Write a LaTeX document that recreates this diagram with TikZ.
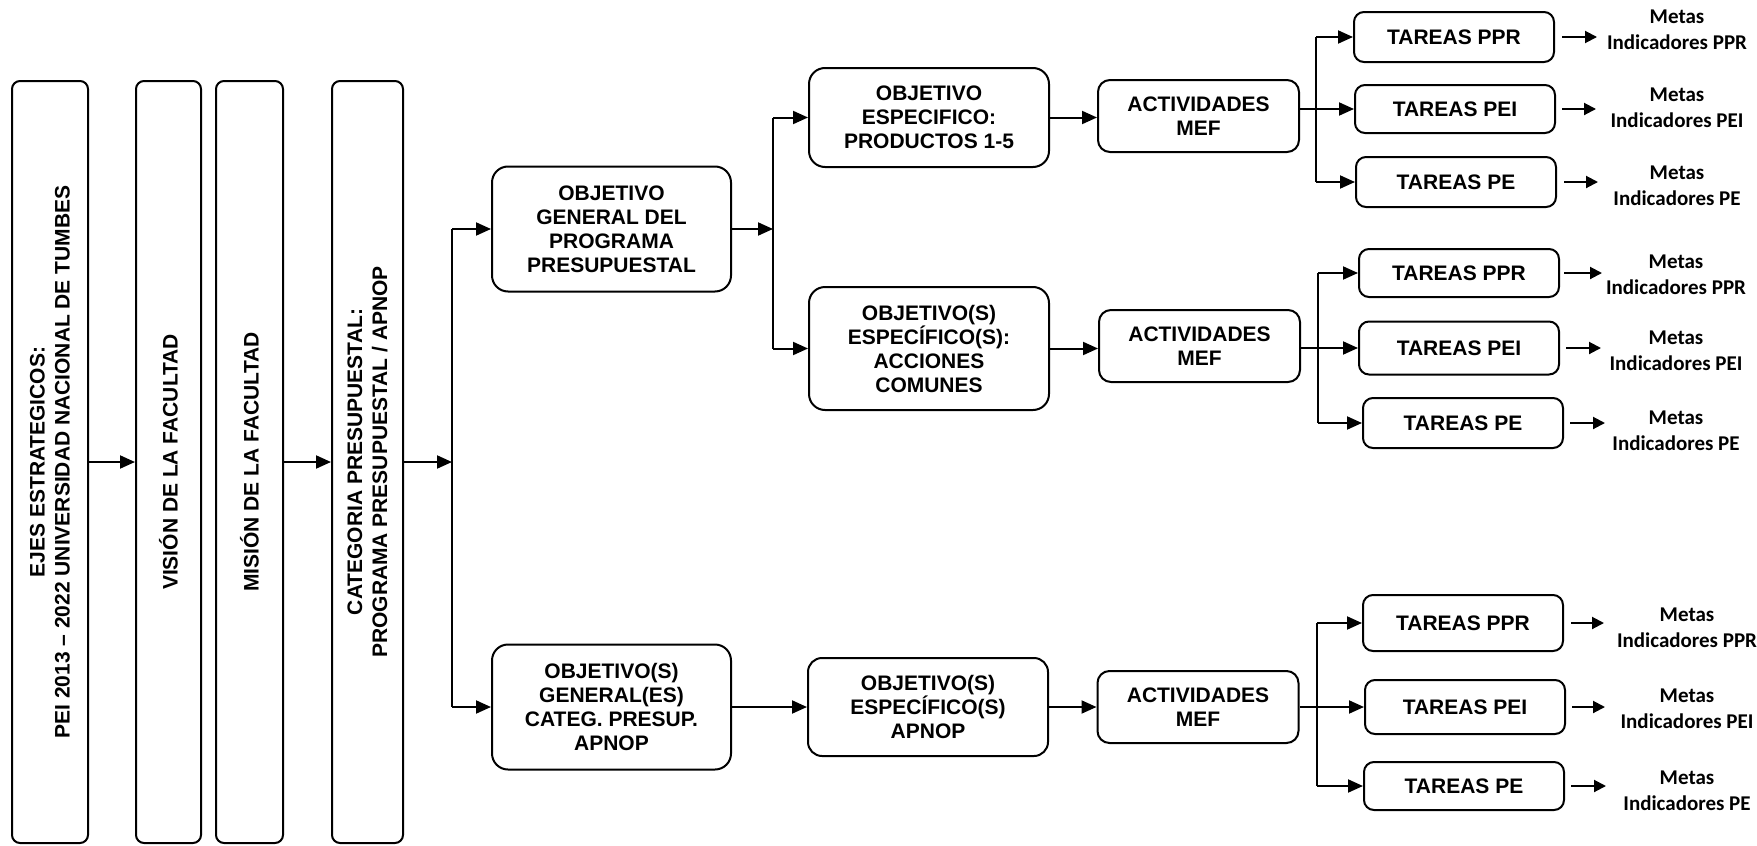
\documentclass[tikz,border=0pt]{standalone}
\usepackage{fontspec}
\setmainfont{Liberation Sans}
\newfontfamily\metasfont{Carlito}
\usetikzlibrary{arrows.meta}

\tikzset{
  caja/.style={draw, line width=1pt, align=center, inner sep=0pt,
    font=\bfseries\fontsize{10.5}{12}\selectfont},
  vcaja/.style={caja, rotate=90, rounded corners=4pt, minimum width=381pt,
    font=\bfseries\fontsize{10.5}{12.5}\selectfont},
  objcaja/.style={caja, rounded corners=8pt, minimum width=120pt},
  actcaja/.style={caja, rounded corners=6pt, minimum width=100.5pt, minimum height=36pt},
  tarcaja/.style={caja, rounded corners=5pt, minimum width=100pt, minimum height=25pt},
  metas/.style={align=center, inner sep=0pt, font=\metasfont\bfseries\fontsize{10.5}{13}\selectfont},
  linea/.style={line width=1pt},
  flecha/.style={line width=1pt, -{Triangle[length=7.5pt,width=6.5pt]}},
  flechita/.style={line width=1pt, -{Triangle[length=6pt,width=6pt]}}
}

\begin{document}
\begin{tikzpicture}[x=0.5pt,y=-0.5pt]
\useasboundingbox (0,0) rectangle (1757,846);

% vertical boxes (rotated: north = left side, south = right side)
\node[vcaja, minimum height=38pt] (ejes) at (50,462) {EJES ESTRATEGICOS:\\PEI 2013 – 2022 UNIVERSIDAD NACIONAL DE TUMBES};
\node[vcaja, minimum height=32.5pt] (vision) at (168.5,462) {VISIÓN DE LA FACULTAD};
\node[vcaja, minimum height=33.5pt] (mision) at (249.5,462) {MISIÓN DE LA FACULTAD};
\node[vcaja, minimum height=35.5pt] (categ) at (367.5,462) {CATEGORIA PRESUPUESTAL:\\PROGRAMA PRESUPUESTAL / APNOP};

\draw[flecha] (ejes.south) -- (vision.north);
\draw[flecha] (mision.south) -- (categ.north);

\coordinate (bus) at (452,462);
\draw[flecha] (categ.south) -- (bus);

% objetivos generales
\node[objcaja, minimum width=119.5pt, minimum height=62.5pt] (ogp) at (611.5,229) {OBJETIVO\\GENERAL DEL\\PROGRAMA\\PRESUPUESTAL};
\node[objcaja, minimum width=119.5pt, minimum height=62.5pt] (oge) at (611.5,707) {OBJETIVO(S)\\GENERAL(ES)\\CATEG. PRESUP.\\APNOP};

\draw[linea] (bus |- ogp.west) -- (bus |- oge.west);
\draw[flecha] (bus |- ogp.west) -- (ogp.west);
\draw[flecha] (bus |- oge.west) -- (oge.west);

% objetivos especificos
\node[objcaja, minimum height=49.5pt] (oe1) at (929,117.5) {OBJETIVO\\ESPECIFICO:\\PRODUCTOS 1-5};
\node[objcaja, minimum height=61.5pt] (oe2) at (929,348.5) {OBJETIVO(S)\\ESPECÍFICO(S):\\ACCIONES\\COMUNES};
\node[objcaja, rounded corners=7pt, minimum height=49pt] (oea) at (928,707) {OBJETIVO(S)\\ESPECÍFICO(S)\\APNOP};

\coordinate (split) at (773,229);
\draw[flecha] (ogp.east) -- (split);
\draw[linea] (split |- oe1.west) -- (split |- oe2.west);
\draw[flecha] (split |- oe1.west) -- (oe1.west);
\draw[flecha] (split |- oe2.west) -- (oe2.west);
\draw[flecha] (oge.east) -- (oea.west);

% actividades
\node[actcaja] (act1) at (1198.5,116) {ACTIVIDADES\\MEF};
\node[actcaja] (act2) at (1199.5,346) {ACTIVIDADES\\MEF};
\node[actcaja] (act3) at (1198,707) {ACTIVIDADES\\MEF};

\draw[flecha] (oe1.east) -- (act1.west |- oe1.east);
\draw[flecha] (oe2.east) -- (act2.west |- oe2.east);
\draw[flecha] (oea.east) -- (act3.west |- oea.east);

% tareas
\node[tarcaja] (t1ppr) at (1454,37) {TAREAS PPR};
\node[tarcaja, minimum height=24pt] (t1pei) at (1455,109) {TAREAS PEI};
\node[tarcaja] (t1pe) at (1456,182) {TAREAS PE};

\node[tarcaja, minimum height=24pt] (t2ppr) at (1459,273) {TAREAS PPR};
\node[tarcaja, minimum height=26.5pt] (t2pei) at (1459,348) {TAREAS PEI};
\node[tarcaja] (t2pe) at (1463,423) {TAREAS PE};

\node[tarcaja, minimum height=28pt] (t3ppr) at (1463,623) {TAREAS PPR};
\node[tarcaja, minimum height=27pt] (t3pei) at (1465,707) {TAREAS PEI};
\node[tarcaja, minimum height=24pt] (t3pe) at (1464,786) {TAREAS PE};

\coordinate (br1) at (1316,109);
\coordinate (br2) at (1318,348);
\coordinate (br3) at (1317,707);

\draw[linea] (br1 |- t1ppr) -- (br1 |- t1pe);
\draw[flecha] (br1 |- t1ppr) -- (t1ppr.west);
\draw[flecha] (act1.east |- t1pei) -- (t1pei.west);
\draw[flecha] (br1 |- t1pe) -- (t1pe.west);

\draw[linea] (br2 |- t2ppr) -- (br2 |- t2pe);
\draw[flecha] (br2 |- t2ppr) -- (t2ppr.west);
\draw[flecha] (act2.east |- t2pei) -- (t2pei.west);
\draw[flecha] (br2 |- t2pe) -- (t2pe.west);

\draw[linea] (br3 |- t3ppr) -- (br3 |- t3pe);
\draw[flecha] (br3 |- t3ppr) -- (t3ppr.west);
\draw[flecha] (act3.east |- t3pei) -- (t3pei.west);
\draw[flecha] (br3 |- t3pe) -- (t3pe.west);

% metas e indicadores
\node[metas] (m1ppr) at (1677,30) {Metas\\Indicadores PPR};
\node[metas] (m1pei) at (1677,108) {Metas\\Indicadores PEI};
\node[metas] (m1pe) at (1677,186) {Metas\\Indicadores PE};
\node[metas] (m2ppr) at (1676,275) {Metas\\Indicadores PPR};
\node[metas] (m2pei) at (1676,351) {Metas\\Indicadores PEI};
\node[metas] (m2pe) at (1676,431) {Metas\\Indicadores PE};
\node[metas] (m3ppr) at (1687,628) {Metas\\Indicadores PPR};
\node[metas] (m3pei) at (1687,709) {Metas\\Indicadores PEI};
\node[metas] (m3pe) at (1687,791) {Metas\\Indicadores PE};

\draw[flechita] ([xshift=3.5pt]t1ppr.east) -- ++(35,0);
\draw[flechita] ([xshift=3pt]t1pei.east) -- ++(34,0);
\draw[flechita] ([xshift=3.5pt]t1pe.east) -- ++(34,0);
\draw[flechita] ([xshift=2pt]t2ppr.east) -- ++(38,0);
\draw[flechita] ([xshift=3pt]t2pei.east) -- ++(35,0);
\draw[flechita] ([xshift=3pt]t2pe.east) -- ++(35,0);
\draw[flechita] ([xshift=3.5pt]t3ppr.east) -- ++(33,0);
\draw[flechita] ([xshift=3pt]t3pei.east) -- ++(33,0);
\draw[flechita] ([xshift=3pt]t3pe.east) -- ++(35,0);

\end{tikzpicture}
\end{document}
